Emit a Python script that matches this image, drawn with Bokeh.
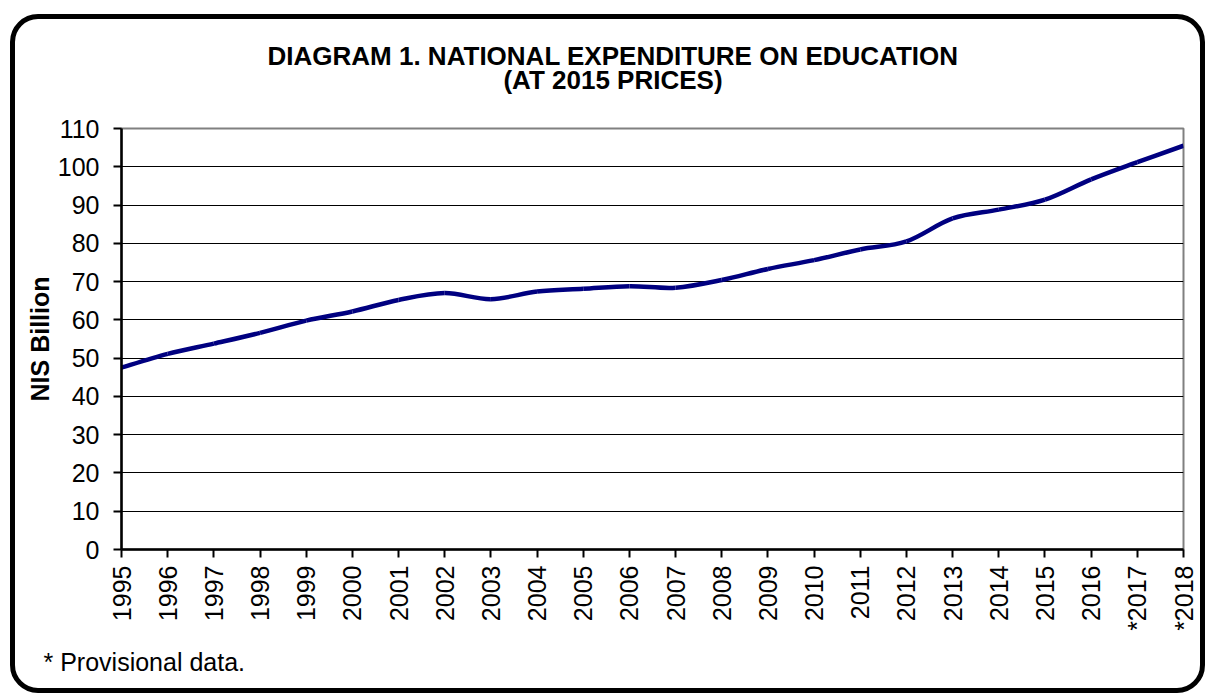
import math
from bokeh.plotting import figure
from bokeh.layouts import column
from bokeh.models import FixedTicker, Range1d, Title
from bokeh.core.properties import value
from bokeh.embed import file_html
from bokeh.resources import INLINE

# ---- data ----
years = [1995, 1996, 1997, 1998, 1999, 2000, 2001, 2002, 2003, 2004, 2005, 2006,
         2007, 2008, 2009, 2010, 2011, 2012, 2013, 2014, 2015, 2016, 2017, 2018]
values = [47.5, 51.1, 53.8, 56.6, 59.8, 62.2, 65.2, 67.0, 65.4, 67.4, 68.1, 68.8,
          68.4, 70.4, 73.3, 75.6, 78.4, 80.5, 86.5, 88.8, 91.4, 96.7, 101.2, 105.5]
tick_labels = ["1995", "1996", "1997", "1998", "1999", "2000", "2001", "2002",
               "2003", "2004", "2005", "2006", "2007", "2008", "2009", "2010",
               "2011", "2012", "2013", "2014", "2015", "2016", "*2017", "*2018"]
y_ticks = [0, 10, 20, 30, 40, 50, 60, 70, 80, 90, 100, 110]
title_line1 = "DIAGRAM 1. NATIONAL EXPENDITURE ON EDUCATION"
title_line2 = "(AT 2015 PRICES)"
y_label = "NIS Billion"
footnote = "* Provisional data."

FONT = "Liberation Sans"
LINE_COLOR = "#000080"
W = 1185
LEFT, RIGHT = 106, 17
FRAME_W = W - LEFT - RIGHT

# ---- title strip (its frame is aligned with the chart frame) ----
TH = 94
tfig = figure(width=W, height=TH, output_backend="svg", toolbar_location=None,
              x_range=Range1d(0, FRAME_W), y_range=Range1d(TH, 0),
              min_border=0, min_border_left=LEFT, min_border_right=RIGHT,
              x_axis_location=None, y_axis_location=None)
tfig.xgrid.grid_line_color = None
tfig.ygrid.grid_line_color = None
tfig.outline_line_color = None
tfig.background_fill_color = None
tfig.border_fill_color = None
tfig.text(x=[491.5, 491.5], y=[36, 60.5], text=[title_line1, title_line2],
          text_align="center", text_baseline="alphabetic",
          text_font=value(FONT), text_font_size=value("26px"),
          text_font_style="bold", text_color="black")

# ---- main chart ----
p = figure(width=W, height=575, output_backend="svg", toolbar_location=None,
           x_range=Range1d(1995, 2018), y_range=Range1d(0, 110),
           min_border_left=LEFT, min_border_right=RIGHT, min_border_top=15,
           min_border_bottom=139)
p.border_fill_color = None
p.background_fill_color = None
p.outline_line_color = "#808080"
p.outline_line_width = 2

# smooth line (Excel-like smoothed curve) drawn as bezier segments from the data
n = len(years)
x0s, y0s, x1s, y1s, cx0s, cy0s, cx1s, cy1s = [], [], [], [], [], [], [], []
for i in range(n - 1):
    xa, ya = (years[i - 1], values[i - 1]) if i > 0 else (years[i], values[i])
    xb, yb = years[i], values[i]
    xc, yc = years[i + 1], values[i + 1]
    xd, yd = (years[i + 2], values[i + 2]) if i + 2 < n else (years[i + 1], values[i + 1])
    x0s.append(xb); y0s.append(yb)
    x1s.append(xc); y1s.append(yc)
    cx0s.append(xb + (xc - xa) / 6.0); cy0s.append(yb + (yc - ya) / 6.0)
    cx1s.append(xc - (xd - xb) / 6.0); cy1s.append(yc - (yd - yb) / 6.0)
p.bezier(x0=x0s, y0=y0s, x1=x1s, y1=y1s, cx0=cx0s, cy0=cy0s, cx1=cx1s, cy1=cy1s,
         line_color=LINE_COLOR, line_width=4.5)

# axes
p.xaxis.ticker = FixedTicker(ticks=years)
p.xaxis.major_label_overrides = {y: t for y, t in zip(years, tick_labels)}
p.xaxis.major_label_orientation = math.pi / 2
p.yaxis.ticker = FixedTicker(ticks=y_ticks)
for ax in (p.xaxis[0], p.yaxis[0]):
    ax.axis_line_color = "black"
    ax.axis_line_width = 2.5
    ax.major_tick_line_color = "black"
    ax.major_tick_line_width = 2
    ax.major_tick_in = 0
    ax.major_tick_out = 8
    ax.minor_tick_line_color = None
    ax.major_label_text_font = FONT
    ax.major_label_text_font_size = "25px"
    ax.major_label_text_color = "black"
p.xaxis.major_label_standoff = 8
p.yaxis.major_label_standoff = 14
p.yaxis.axis_label = y_label
p.yaxis.axis_label_text_font = FONT
p.yaxis.axis_label_text_font_size = "25px"
p.yaxis.axis_label_text_font_style = "bold"
p.yaxis.axis_label_text_color = "black"
p.yaxis.axis_label_standoff = 1

# grid
p.xgrid.grid_line_color = None
p.ygrid.ticker = FixedTicker(ticks=y_ticks[:-1])
p.ygrid.grid_line_color = "black"
p.ygrid.grid_line_width = 1

# footnote
fn = Title(text=footnote, align="left", offset=-78, standoff=25,
           text_font=FONT, text_font_size="25px", text_font_style="normal",
           text_color="black")
p.add_layout(fn, "below")

layout = column(tfig, p, spacing=0,
                styles={"border": "5px solid black", "border-radius": "28px",
                        "margin-left": "10px", "margin-top": "14px",
                        "overflow": "hidden", "background-color": "white"})

open("out.html", "w").write(file_html(layout, INLINE))
